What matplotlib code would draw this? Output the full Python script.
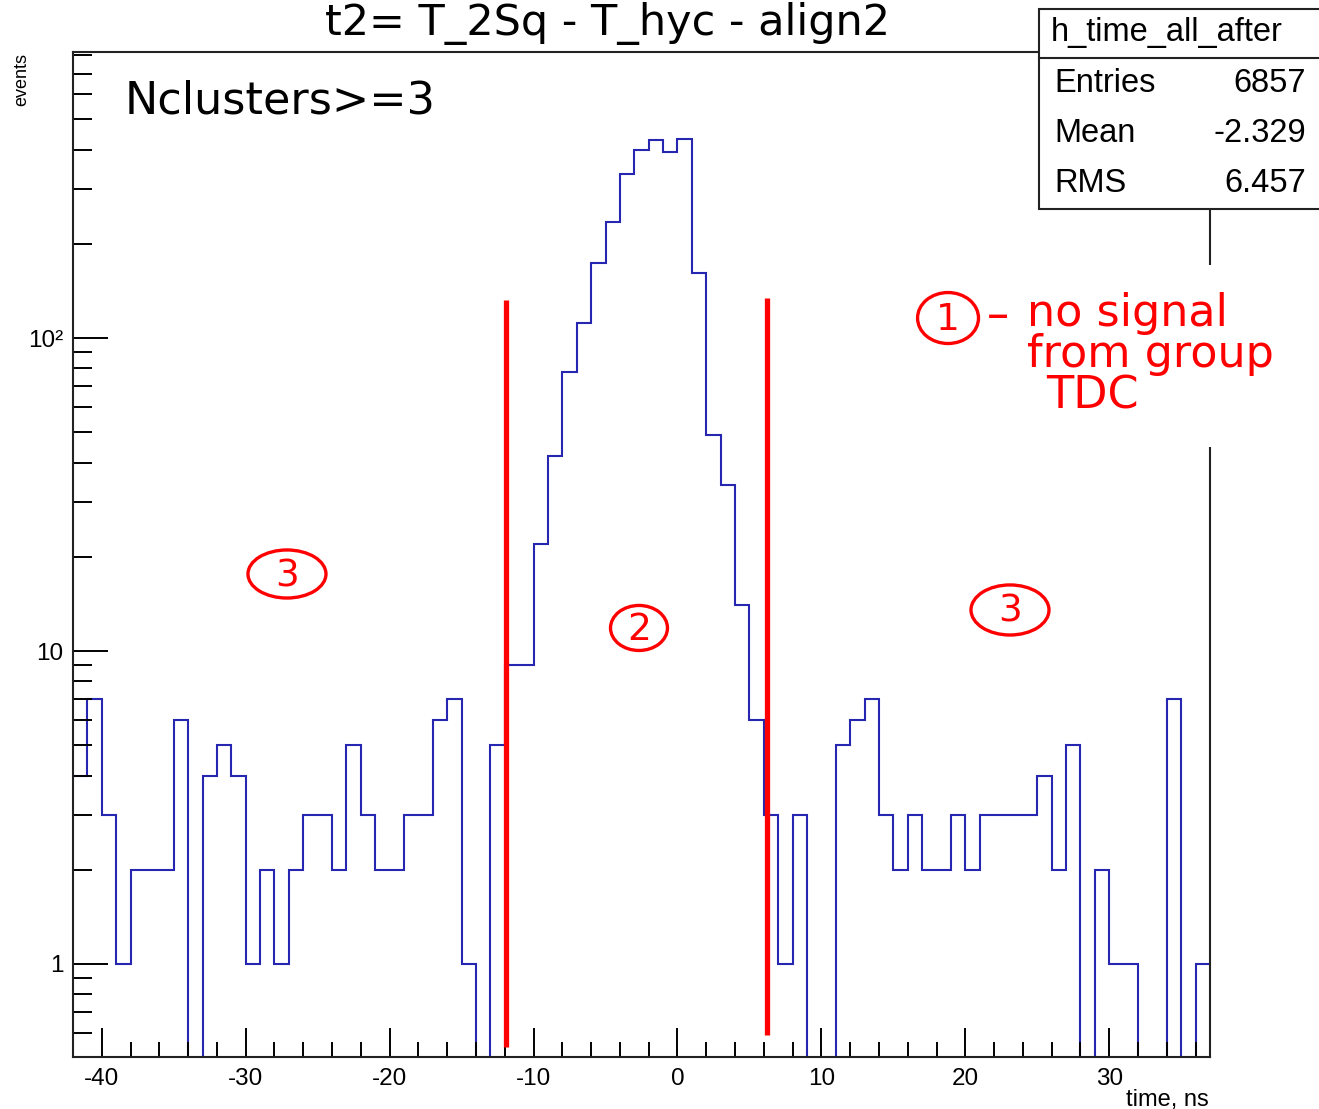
import matplotlib

matplotlib.use("Agg")
import matplotlib.pyplot as plt
import numpy as np
from matplotlib.patches import Ellipse, Rectangle
from matplotlib.ticker import FixedLocator, FuncFormatter, MultipleLocator, NullFormatter

plt.rcParams["axes.unicode_minus"] = False

# histogram h_time_all_after, 1 ns bins from -42 to 37
bin_edges = np.arange(-42, 38)
counts = [
    4, 7, 3, 1, 2, 2, 2, 6, 0, 4,          # -42 .. -33
    5, 4, 1, 2, 1, 2, 3, 3, 2, 5,          # -32 .. -23
    3, 2, 2, 3, 3, 6, 7, 1, 0, 5,          # -22 .. -13
    9, 9, 22, 42, 78, 112, 174, 235, 334, 398,  # -12 .. -3
    429, 392, 432, 161, 49, 34, 14, 6, 3, 1,    # -2 .. 7
    3, 0, 0, 5, 6, 7, 3, 2, 3, 2,          # 8 .. 17
    2, 3, 2, 3, 3, 3, 3, 4, 2, 5,          # 18 .. 27
    0, 2, 1, 1, 0, 0, 7, 0, 1,             # 28 .. 36
]
stats_labels = ["Entries", "Mean", "RMS"]
stats_values = ["6857", "-2.329", "6.457"]

# red cut lines drawn by hand on the plot: (x, y_bottom, y_top)
cut_lines = [(-11.92, 0.543, 132), (6.19, 0.593, 134)]

fig = plt.figure(figsize=(13.19, 11.09), dpi=100)
ax = fig.add_axes([0.05534, 0.04689, 0.86202, 0.90622])

vals = np.array(counts, dtype=float)
vals[vals <= 0] = 1e-2  # empty bins go down to the frame like in ROOT
ax.stairs(vals, bin_edges, baseline=None, color="#2626b0", lw=1.5)

for x, y0, y1 in cut_lines:
    ax.plot([x, x], [y0, y1], color="#ff0000", lw=3.8, solid_capstyle="butt")

ax.set_yscale("log")
ax.set_xlim(-42, 37)
ax.set_ylim(0.5045, 820)

for sp in ax.spines.values():
    sp.set_linewidth(1.5)
    sp.set_color("#222222")

ax.xaxis.set_major_locator(MultipleLocator(10))
ax.xaxis.set_minor_locator(MultipleLocator(2))
ax.yaxis.set_major_locator(FixedLocator([1, 10, 100]))
ax.yaxis.set_minor_locator(FixedLocator([0.6, 0.7, 0.8, 0.9, 2, 3, 4, 5, 6, 7, 8, 9,
                                         20, 30, 40, 50, 60, 70, 80, 90,
                                         200, 300, 400, 500, 600, 700, 800]))
ylab = {1: "1", 10: "10", 100: "10²"}
ax.yaxis.set_major_formatter(FuncFormatter(lambda v, p: ylab.get(int(round(v)), "")))
ax.yaxis.set_minor_formatter(NullFormatter())
ax.tick_params(axis="x", which="major", direction="in", length=21, width=1.4, pad=8)
ax.tick_params(axis="x", which="minor", direction="in", length=11, width=1.4)
ax.tick_params(axis="y", which="major", direction="in", length=25, width=1.4, pad=7)
ax.tick_params(axis="y", which="minor", direction="in", length=14, width=1.4)
for lab in ax.get_xticklabels() + ax.get_yticklabels():
    lab.set_fontfamily("Liberation Sans")
    lab.set_fontsize(17.5)

# titles and axis labels
fig.text(0.4602, 0.9684, "t2= T_2Sq - T_hyc - align2", ha="center", va="baseline",
         fontsize=31, family="DejaVu Sans")
fig.text(0.0167, 0.928, "events", rotation=90, ha="center", va="center",
         fontsize=13, family="Liberation Sans")
fig.text(0.9166, 0.0085, "time, ns", ha="right", va="center",
         fontsize=17, family="Liberation Sans")
ax.text(0.0457, 0.9393, "Nclusters>=3", transform=ax.transAxes, ha="left", va="baseline",
        fontsize=32, family="DejaVu Sans")

# white patch hiding the frame behind the red note
ax.add_patch(Rectangle((0.83, 0.607), 0.3, 0.181, transform=ax.transAxes, facecolor="white",
                       edgecolor="none", clip_on=False, zorder=3))

red = "#ff0000"
circles = [("3", 0.1882, 0.4806, 0.0686, 0.0478),
           ("2", 0.4978, 0.4269, 0.0501, 0.0448),
           ("3", 0.8241, 0.4448, 0.0686, 0.0498),
           ("1", 0.7696, 0.7353, 0.0536, 0.0507)]
for digit, cx, cy, w, h in circles:
    ax.add_patch(Ellipse((cx, cy), w, h, transform=ax.transAxes, facecolor="none",
                         edgecolor=red, lw=2.4, clip_on=False, zorder=4))
    ax.text(cx, cy - 0.002, digit, transform=ax.transAxes, ha="center", va="center",
            fontsize=27, color=red, family="DejaVu Sans", zorder=5)

ax.text(0.8135, 0.7373, "–", transform=ax.transAxes, ha="center", va="center",
        fontsize=32, color=red, family="DejaVu Sans", zorder=5, clip_on=False)
note_lines = [("no signal", 0.8391, 0.7274), ("from group", 0.8391, 0.6866), ("TDC", 0.8558, 0.6448)]
for txt, tx, ty in note_lines:
    ax.text(tx, ty, txt, transform=ax.transAxes, ha="left", va="baseline", fontsize=32,
            color=red, family="DejaVu Sans", zorder=5, clip_on=False)

# stats box
fig.patches.append(Rectangle((0.7877, 0.8115), 0.25, 0.1804, transform=fig.transFigure,
                             facecolor="white", edgecolor="#222222", lw=1.5, zorder=5))
fig.lines.append(plt.Line2D([0.7877, 1.0], [0.9477, 0.9477], transform=fig.transFigure,
                            color="#222222", lw=1.5, zorder=6))
fig.text(0.7968, 0.9711, "h_time_all_after", ha="left", va="center", fontsize=23.5,
         family="Liberation Sans", zorder=7)
for i, (lab, val) in enumerate(zip(stats_labels, stats_values)):
    y = 0.9243 - i * 0.0451
    fig.text(0.7991, y, lab, ha="left", va="center", fontsize=23.5, family="Liberation Sans", zorder=7)
    fig.text(0.9901, y, val, ha="right", va="center", fontsize=23.5, family="Liberation Sans", zorder=7)

fig.savefig("out.png", dpi=100, facecolor="white")
